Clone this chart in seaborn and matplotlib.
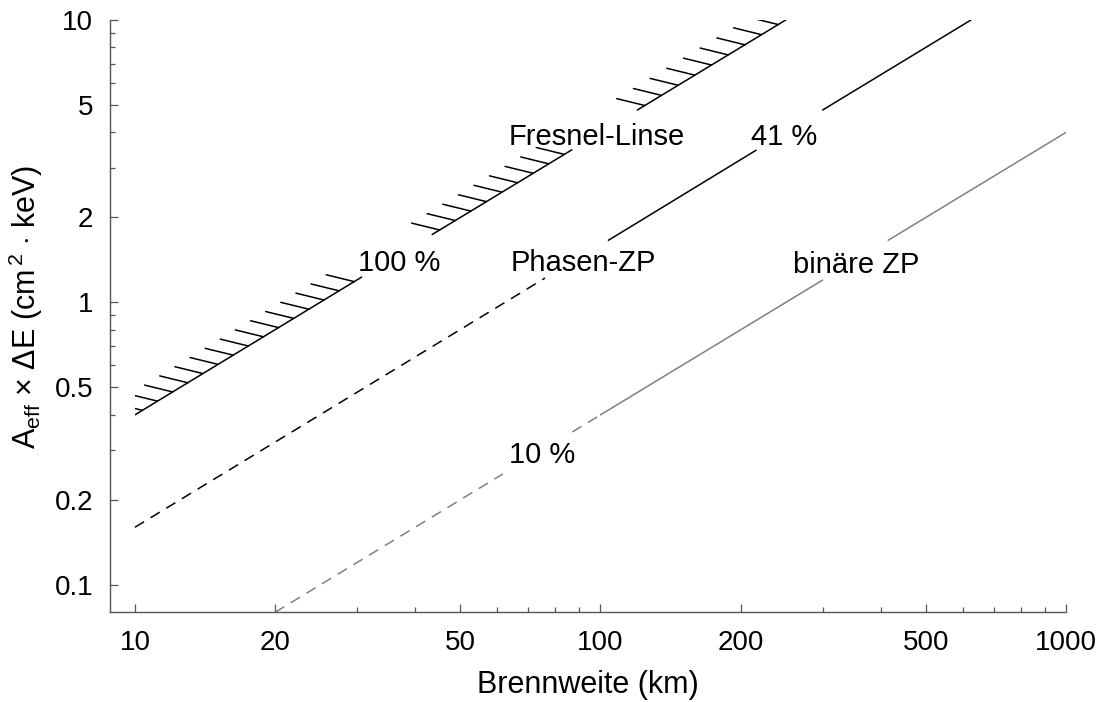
import matplotlib
matplotlib.use("Agg")
import matplotlib.pyplot as plt
import seaborn as sns
import pandas as pd
from matplotlib import patheffects
from matplotlib.patches import Rectangle
from matplotlib.ticker import FixedLocator, FixedFormatter, NullFormatter

# ---------------- data ----------------
# segment endpoints (pairs), gaps are where the labels sit
fresnel_x = [10, 30.7, 43.5, 86.8, 120, 250]
fresnel_y = [0.40, 1.23, 1.74, 3.47, 4.80, 10.0]
fresnel_style = ["-", "-", "-"]

phase_x = [10, 76, 104, 216, 300, 625]
phase_y = [0.16, 1.22, 1.66, 3.46, 4.80, 10.0]
phase_style = ["--", "-", "-"]

binary_x = [20, 61.7, 87, 100, 100, 300, 415, 1000]
binary_y = [0.08, 0.247, 0.348, 0.40, 0.40, 1.20, 1.66, 4.0]
binary_style = ["--", "--", "-", "-"]

labels = ["Fresnel-Linse", "41 %", "100 %", "Phasen-ZP", "binäre ZP", "10 %"]
label_x = [98, 248, 37, 92, 354, 75]
label_y = [3.86, 3.86, 1.38, 1.38, 1.36, 0.288]

x_major = [10, 20, 50, 100, 200, 500, 1000]
x_major_labels = ["10", "20", "50", "100", "200", "500", "1000"]
x_minor = [30, 40, 60, 70, 80, 90, 300, 400, 600, 700, 800, 900]
y_major = [0.1, 0.2, 0.5, 1, 2, 5, 10]
y_major_labels = ["0.1", "0.2", "0.5", "1", "2", "5", "10"]
y_minor = [0.3, 0.4, 0.6, 0.7, 0.8, 0.9, 3, 4, 6, 7, 8, 9]

# ---------------- style ----------------
sns.set_theme(style="white")
plt.rcParams["font.family"] = ["Liberation Sans", "DejaVu Sans"]
plt.rcParams["mathtext.fontset"] = "custom"
plt.rcParams["mathtext.rm"] = "Liberation Sans"
plt.rcParams["mathtext.it"] = "Liberation Sans"
plt.rcParams["text.color"] = "black"
plt.rcParams["axes.labelcolor"] = "black"

FS_TICK = 20
FS_ANN = 21
FS_LAB = 22
spine_col = "#555555"

fig = plt.figure(figsize=(11.04, 7.02), dpi=100)
ax = fig.add_axes([110 / 1104, 90 / 702, (1066 - 110) / 1104, (612 - 20) / 702])
ax.set_xscale("log")
ax.set_yscale("log")

ax.set_xlim(8.84, 1000)
ax.set_ylim(0.0802, 10.0)


def draw(xs, ys, styles, color, hatch=False):
    for i, ls in enumerate(styles):
        seg = pd.DataFrame({"x": xs[2 * i:2 * i + 2], "y": ys[2 * i:2 * i + 2]})
        n_before = len(ax.lines)
        sns.lineplot(data=seg, x="x", y="y", ax=ax, color=color, lw=1.1,
                     estimator=None, sort=False, legend=False)
        line = ax.lines[n_before]
        if ls == "--":
            line.set_linestyle((0, (7, 5)))
        if hatch:
            line.set_path_effects([patheffects.withTickedStroke(
                angle=135, spacing=12.6, length=1.65)])
            # hatched region starts at the first focal length
            clip = Rectangle((xs[0], 0.0802), 1000 - xs[0], 10.0 - 0.0802,
                             transform=ax.transData, visible=False)
            ax.add_patch(clip)
            line.set_clip_path(clip)


draw(fresnel_x, fresnel_y, fresnel_style, "black", hatch=True)
draw(phase_x, phase_y, phase_style, "black")
draw(binary_x, binary_y, binary_style, "#808080")

for t, x, y in zip(labels, label_x, label_y):
    ax.text(x, y, t, ha="center", va="center", fontsize=FS_ANN, color="black")

ax.set_xlim(8.84, 1000)
ax.set_ylim(0.0802, 10.0)

ax.xaxis.set_major_locator(FixedLocator(x_major))
ax.xaxis.set_major_formatter(FixedFormatter(x_major_labels))
ax.xaxis.set_minor_locator(FixedLocator(x_minor))
ax.xaxis.set_minor_formatter(NullFormatter())
ax.yaxis.set_major_locator(FixedLocator(y_major))
ax.yaxis.set_major_formatter(FixedFormatter(y_major_labels))
ax.yaxis.set_minor_locator(FixedLocator(y_minor))
ax.yaxis.set_minor_formatter(NullFormatter())

ax.tick_params(which="both", bottom=True, left=True, top=False, right=False)
ax.tick_params(which="major", direction="in", length=6, width=0.9,
               color=spine_col, labelsize=FS_TICK, labelcolor="black", pad=13)
ax.tick_params(which="minor", direction="in", length=3.5, width=0.9,
               color=spine_col)
ax.tick_params(axis="y", which="major", pad=12)

for s in ["top", "right"]:
    ax.spines[s].set_visible(False)
for s in ["left", "bottom"]:
    ax.spines[s].set_color(spine_col)
    ax.spines[s].set_linewidth(1.0)

ax.set_xlabel("Brennweite (km)", fontsize=FS_LAB, labelpad=10)
ax.set_ylabel(r"A$_{\mathrm{eff}}$ $\times$ $\Delta$E (cm$^{\,2}$ $\cdot$ keV)",
              fontsize=FS_LAB)
ax.yaxis.set_label_coords(-0.068, 0.515)
ax.grid(False)

fig.savefig("out.png", dpi=100)
